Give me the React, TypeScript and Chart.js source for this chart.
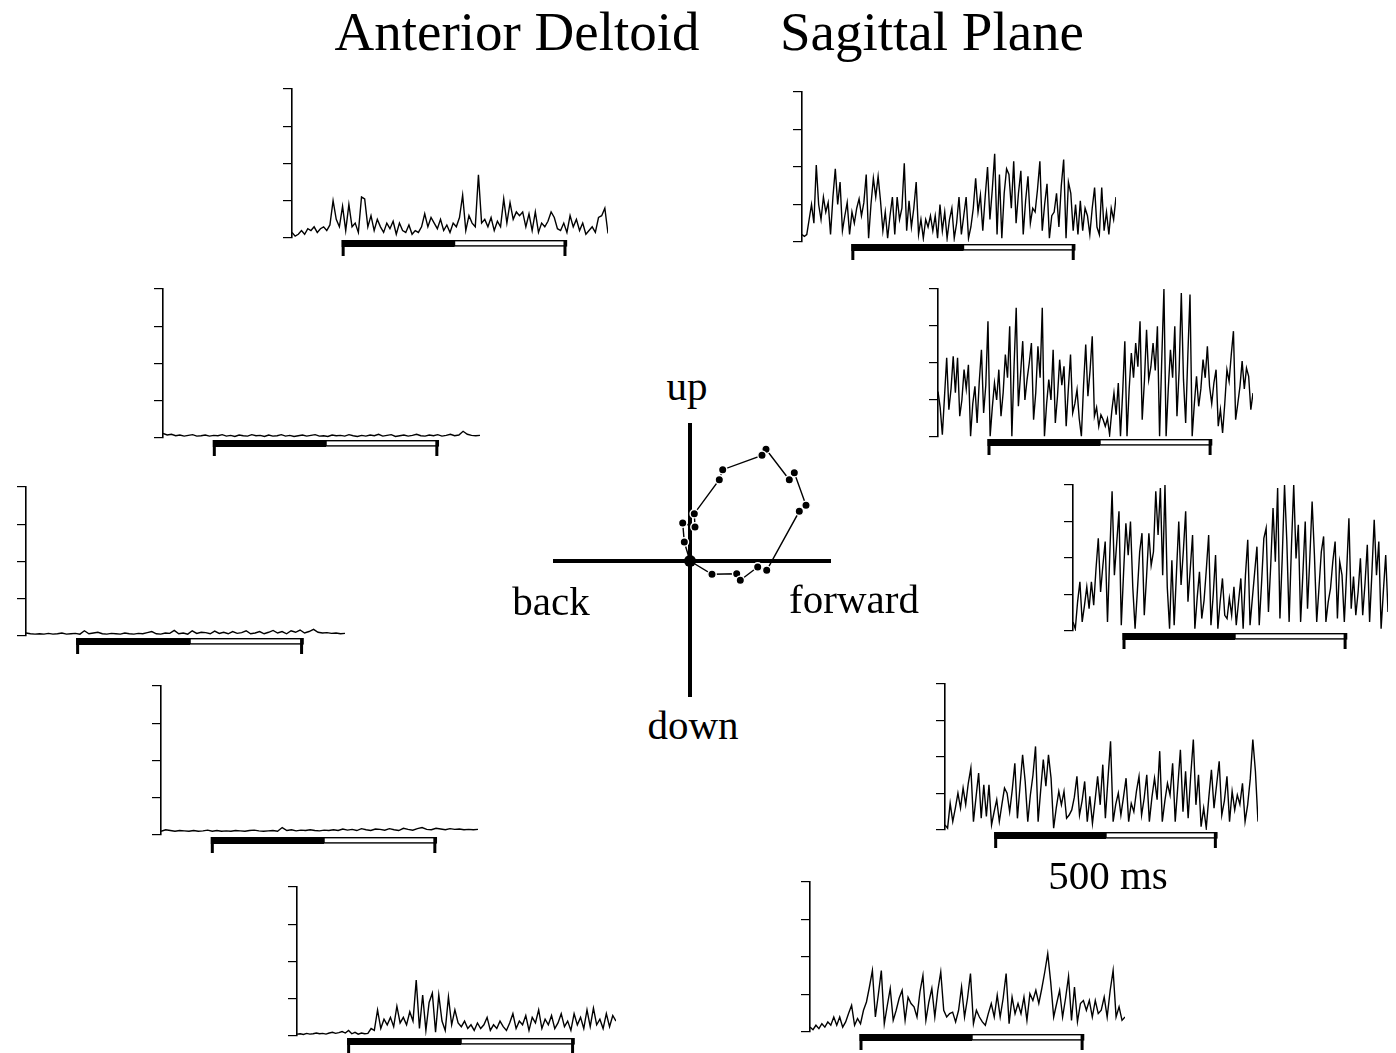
import React, { useEffect, useRef } from "react";
import { Chart, registerables } from "chart.js";

Chart.register(...registerables);

// ---------- data ----------
const TRACE_MS = 700;
const Y_TICKS = [0, 1, 2, 3, 4];
const BAR_START_MS = 110;
const BAR_SWITCH_MS = 360;
const BAR_END_MS = 608;

const L1_TRACE = [0.15,0.05,0.1,0.2,0.1,0.25,0.2,0.3,0.15,0.25,0.3,0.2,0.35,1.0,0.5,0.3,0.85,0.2,0.9,0.3,0.4,0.15,1.1,1.05,0.3,0.6,0.2,0.5,0.3,0.15,0.4,0.25,0.45,0.1,0.4,0.2,0.15,0.35,0.1,0.2,0.15,0.3,0.65,0.3,0.55,0.4,0.25,0.5,0.2,0.35,0.15,0.4,0.3,0.55,1.15,0.2,0.6,0.4,0.3,1.7,0.4,0.5,0.3,0.55,0.2,0.45,0.3,1.05,0.4,0.95,0.5,0.7,0.6,0.7,0.3,0.65,0.2,0.7,0.15,0.4,0.3,0.45,0.7,0.55,0.25,0.2,0.4,0.15,0.6,0.3,0.5,0.2,0.4,0.1,0.2,0.3,0.15,0.55,0.6,0.8,0.12];
const L2_TRACE = [0.12,0.08,0.1,0.06,0.08,0.05,0.07,0.09,0.05,0.06,0.08,0.05,0.07,0.06,0.09,0.05,0.07,0.04,0.08,0.06,0.05,0.09,0.06,0.07,0.04,0.08,0.05,0.06,0.09,0.05,0.07,0.04,0.06,0.08,0.05,0.07,0.09,0.05,0.06,0.04,0.08,0.06,0.07,0.05,0.09,0.06,0.04,0.07,0.05,0.08,0.06,0.1,0.05,0.07,0.09,0.04,0.06,0.08,0.05,0.07,0.1,0.06,0.05,0.08,0.06,0.09,0.05,0.07,0.1,0.06,0.08,0.18,0.1,0.07,0.06,0.07];
const L3_TRACE = [0.08,0.06,0.05,0.06,0.05,0.07,0.05,0.06,0.08,0.05,0.06,0.07,0.05,0.14,0.06,0.08,0.1,0.06,0.05,0.07,0.06,0.05,0.08,0.06,0.05,0.07,0.06,0.09,0.12,0.06,0.05,0.08,0.07,0.15,0.06,0.08,0.05,0.14,0.07,0.1,0.09,0.06,0.13,0.07,0.1,0.06,0.12,0.07,0.09,0.14,0.06,0.08,0.12,0.06,0.1,0.15,0.08,0.12,0.06,0.14,0.1,0.16,0.08,0.12,0.18,0.1,0.08,0.09,0.07,0.08,0.06,0.07];
const L4_TRACE = [0.1,0.14,0.12,0.1,0.12,0.11,0.1,0.12,0.1,0.11,0.13,0.1,0.12,0.1,0.11,0.1,0.12,0.11,0.1,0.12,0.13,0.11,0.1,0.11,0.12,0.1,0.2,0.12,0.14,0.11,0.13,0.12,0.14,0.12,0.11,0.13,0.12,0.14,0.12,0.16,0.13,0.15,0.12,0.17,0.14,0.12,0.16,0.15,0.13,0.17,0.14,0.12,0.18,0.15,0.13,0.17,0.2,0.15,0.14,0.18,0.16,0.14,0.17,0.15,0.16,0.14,0.15,0.14,0.15];
const L5_TRACE = [0.05,0.06,0.04,0.07,0.05,0.06,0.08,0.06,0.07,0.05,0.08,0.1,0.07,0.09,0.12,0.08,0.15,0.06,0.1,0.05,0.08,0.06,0.07,0.2,0.15,0.7,0.2,0.45,0.3,0.5,0.25,0.8,0.35,0.5,0.3,0.65,0.4,1.5,0.2,1.1,0.15,0.9,1.15,0.1,1.1,0.4,0.15,1.05,0.3,0.7,0.35,0.25,0.4,0.2,0.3,0.15,0.35,0.2,0.3,0.5,0.15,0.3,0.2,0.4,0.25,0.15,0.35,0.6,0.2,0.4,0.3,0.55,0.15,0.5,0.35,0.7,0.2,0.45,0.3,0.55,0.2,0.35,0.6,0.25,0.4,0.15,0.6,0.3,0.5,0.2,0.7,0.25,0.75,0.3,0.45,0.2,0.6,0.25,0.55,0.4];

const R1_TRACE = [0.2,0.15,0.2,0.6,1.0,0.5,2.05,1.0,0.6,1.2,0.8,1.05,0.2,1.2,1.95,1.0,1.6,0.3,0.7,1.05,0.2,0.8,0.5,0.9,1.15,0.7,1.05,1.8,0.1,1.0,1.7,1.2,1.75,1.1,0.3,0.8,0.1,0.7,1.2,0.2,1.2,0.6,0.9,2.1,0.3,1.1,0.4,0.9,1.6,0.2,0.6,0.1,0.6,0.4,0.7,0.3,0.7,0.1,1.0,0.3,0.8,0.1,0.6,0.9,0.1,0.5,1.2,0.2,0.7,1.2,0.1,0.4,0.9,1.7,0.8,1.25,0.3,1.2,2.0,0.6,1.4,2.35,0.2,1.8,0.1,1.3,1.95,1.8,0.9,2.15,0.5,1.3,1.9,0.2,1.1,1.75,0.5,0.9,0.8,1.4,2.15,0.3,1.0,1.55,0.1,0.7,0.8,1.3,0.4,1.5,2.2,0.1,1.6,1.3,0.3,1.0,0.2,1.1,0.3,0.9,0.7,0.2,0.9,1.45,0.4,0.2,1.45,0.3,0.8,0.2,0.9,0.6,1.2];
const R2_TRACE = [1.23,0.8,0.06,1.1,2.14,0.74,1.3,2.18,1.2,2.14,0.56,1.0,1.82,1.3,1.95,0.02,0.9,1.37,0.38,1.5,2.36,0.65,1.4,3.13,0.02,0.8,1.46,1.0,1.82,0.56,1.2,2.23,1.6,2.99,0.02,1.9,3.49,0.83,1.7,2.59,1.0,1.55,2.0,2.54,0.47,1.2,2.45,1.6,3.49,0.02,0.9,1.55,1.0,2.36,0.38,1.1,2.09,1.4,1.91,0.29,1.3,2.23,0.65,0.9,1.28,0.5,0.02,1.4,2.5,1.1,1.8,2.72,0.56,0.8,0.29,0.6,0.47,0.29,0.5,0.06,0.7,1.19,0.6,1.46,0.02,1.2,2.59,0.02,1.3,2.27,1.6,2.54,1.9,3.13,0.47,1.5,2.9,1.55,1.9,2.54,1.8,2.99,0.02,2.1,4.0,0.02,1.3,2.36,1.6,2.99,0.56,1.8,3.89,1.55,0.38,2.2,3.85,0.02,0.9,1.64,0.83,1.3,2.09,1.6,2.45,1.37,0.9,1.46,1.82,0.29,0.74,0.11,0.9,1.82,1.5,2.23,2.86,0.47,0.9,1.37,2.05,1.3,1.86,1.64,0.74,1.19];
const R3_TRACE = [0.25,0.06,0.8,1.35,0.25,0.7,1.21,0.61,1.35,0.71,1.7,2.54,1.07,1.8,2.45,0.25,2.1,3.83,1.53,2.4,3.28,0.16,1.6,2.95,2.08,3.0,1.2,0.06,1.1,2.17,2.68,0.43,1.5,2.68,1.8,2.17,3.83,2.63,3.92,1.53,4.0,1.2,0.06,1.94,0.16,1.6,3.0,1.26,2.2,3.28,0.8,1.7,2.63,0.06,0.9,1.62,0.34,0.84,1.7,2.63,0.16,1.0,2.08,0.06,0.8,1.44,0.43,0.34,0.9,0.43,1.21,0.16,0.8,1.44,0.06,1.53,2.5,0.16,0.89,1.6,2.31,0.16,1.3,2.54,2.82,0.52,1.8,3.37,1.9,3.92,0.34,2.0,4.0,2.45,0.25,2.3,4.0,1.99,2.91,0.25,1.6,3.0,0.61,2.0,3.55,2.08,0.25,1.2,2.17,2.59,0.25,0.8,1.17,1.9,2.45,0.34,1.9,1.53,0.25,1.6,3.09,0.61,1.49,0.43,1.07,1.99,0.43,1.3,2.36,0.25,1.6,3.05,1.53,2.45,0.06,1.1,2.08,0.52];
const R4_TRACE = [0.14,0.05,0.73,0.23,0.6,1.01,0.6,1.15,0.7,1.28,1.7,0.23,0.9,1.56,0.32,1.24,0.37,1.24,0.14,0.5,0.83,0.23,0.7,1.15,1.01,0.5,1.1,1.83,0.32,1.2,2.06,1.33,0.23,0.96,1.5,2.29,0.23,1.1,1.93,1.2,2.06,1.42,0.05,0.6,1.06,0.69,1.06,0.32,0.41,0.55,0.9,1.47,0.41,0.8,1.33,0.23,0.92,0.18,0.8,1.47,0.69,1.79,0.32,1.4,2.43,0.23,0.7,1.01,0.41,0.9,1.42,0.23,0.73,0.5,1.06,1.47,0.41,0.87,1.51,0.23,0.9,1.42,0.83,2.16,0.23,0.8,1.28,0.96,1.83,0.23,1.2,2.2,0.5,1.61,0.32,1.5,2.48,0.69,1.51,0.09,0.6,0.05,0.9,1.65,0.6,1.24,1.88,0.41,0.8,1.47,0.23,1.06,0.55,0.96,0.7,1.28,0.23,0.69,1.4,2.48,1.61,0.23];
const R5_TRACE = [0.13,0.06,0.18,0.09,0.22,0.13,0.27,0.18,0.4,0.18,0.4,0.13,0.27,0.5,0.71,0.18,0.36,0.22,0.58,0.8,1.2,1.64,0.4,1.0,1.64,0.22,0.7,1.16,0.31,0.58,0.9,1.11,0.31,0.93,0.76,0.67,0.4,1.07,1.51,0.31,0.8,1.16,0.4,1.1,1.6,0.58,0.4,0.49,0.53,0.27,0.58,1.2,0.4,0.9,1.56,0.22,0.58,0.4,0.27,0.18,0.49,0.76,0.4,0.98,0.4,0.9,1.56,0.22,0.93,0.49,0.76,0.49,0.93,0.31,1.02,0.84,1.11,0.76,1.16,1.6,2.09,1.33,0.4,0.76,1.11,0.4,0.9,1.48,0.31,1.2,0.27,0.76,0.84,0.58,0.84,0.4,0.84,0.49,0.58,0.93,0.4,1.1,1.64,0.4,0.67,0.31,0.4];

// central hand-path (forward / up)
const LOOP_X = [0, 22, 46.7, 50.3, 67.7, 76.7, 109.3, 116, 104.3, 99.3, 76, 72, 32.7, 29.3, 4.3, 5, -7.3, -5.7, 0];
const LOOP_Y = [0, -13.3, -12.7, -19.3, -6, -9.3, 49.7, 55.7, 88.3, 81.3, 111.7, 105.7, 91.3, 81.3, 47.3, 34, 38, 19, 0];
const AXIS_X_RANGE = [-137, 141];
const AXIS_Y_RANGE = [-136, 138];

// ---------- layout ----------
const PANELS = [
  { id: "L1", trace: L1_TRACE, axisX: 292, topY: 89, bottomY: 238, endX: 608 },
  { id: "L2", trace: L2_TRACE, axisX: 163, topY: 289, bottomY: 438, endX: 480 },
  { id: "L3", trace: L3_TRACE, axisX: 26, topY: 487, bottomY: 636, endX: 345 },
  { id: "L4", trace: L4_TRACE, axisX: 161, topY: 686, bottomY: 835, endX: 478 },
  { id: "L5", trace: L5_TRACE, axisX: 297, topY: 887, bottomY: 1036, endX: 616 },
  { id: "R1", trace: R1_TRACE, axisX: 802, topY: 92, bottomY: 242, endX: 1116 },
  { id: "R2", trace: R2_TRACE, axisX: 938, topY: 289, bottomY: 437, endX: 1253 },
  { id: "R3", trace: R3_TRACE, axisX: 1073, topY: 485, bottomY: 631, endX: 1388 },
  { id: "R4", trace: R4_TRACE, axisX: 945, topY: 684, bottomY: 830, endX: 1258 },
  { id: "R5", trace: R5_TRACE, axisX: 810, topY: 882, bottomY: 1032, endX: 1125 },
];

const PAD_L = 4;
const TICK_LEN = 9;
const PAD_R = 4;
const PAD_T = 4;
const PAD_B = 20;
const SERIF = "'Liberation Serif', 'Times New Roman', Times, serif";

const stimBarPlugin = {
  id: "stimBar",
  afterDraw(chart: any) {
    const { ctx, chartArea, scales } = chart;
    const xs = scales.x;
    const x0 = xs.getPixelForValue(BAR_START_MS);
    const xm = xs.getPixelForValue(BAR_SWITCH_MS);
    const x1 = xs.getPixelForValue(BAR_END_MS);
    const top = chartArea.bottom + 2;
    const h = 7;
    ctx.save();
    ctx.fillStyle = "#000";
    ctx.fillRect(x0, top, xm - x0, h);
    ctx.strokeStyle = "#000";
    ctx.lineWidth = 1.4;
    ctx.strokeRect(xm, top + 0.7, x1 - xm, h - 1.8);
    ctx.lineWidth = 3;
    ctx.beginPath();
    ctx.moveTo(x0 + 1.5, top);
    ctx.lineTo(x0 + 1.5, top + 16);
    ctx.moveTo(x1 - 1.5, top);
    ctx.lineTo(x1 - 1.5, top + 16);
    ctx.stroke();
    ctx.restore();
  },
};

function TracePanel({ trace, axisX, topY, bottomY, endX }: any) {
  const ref = useRef<HTMLCanvasElement>(null);
  const width = endX - axisX + PAD_L + TICK_LEN + PAD_R;
  const height = bottomY - topY + PAD_T + PAD_B;
  useEffect(() => {
    if (!ref.current) return;
    const n = trace.length;
    const chart = new Chart(ref.current, {
      type: "line",
      data: {
        datasets: [
          {
            data: trace.map((v: number, i: number) => ({ x: (i * TRACE_MS) / (n - 1), y: v })),
            borderColor: "#000",
            borderWidth: 1.4,
            pointRadius: 0,
            tension: 0,
            fill: false,
          },
        ],
      },
      options: {
        animation: false,
        responsive: false,
        events: [],
        layout: { autoPadding: false, padding: { left: PAD_L, right: PAD_R, top: PAD_T, bottom: PAD_B } },
        plugins: { legend: { display: false }, tooltip: { enabled: false } },
        scales: {
          x: { type: "linear", min: 0, max: TRACE_MS, display: false },
          y: {
            type: "linear",
            min: 0,
            max: 4,
            afterBuildTicks: (s: any) => {
              s.ticks = Y_TICKS.map((v) => ({ value: v }));
            },
            ticks: { display: false },
            grid: {
              display: true,
              drawOnChartArea: false,
              drawTicks: true,
              tickLength: TICK_LEN,
              color: "#000",
              lineWidth: 1.2,
            },
            border: { display: true, color: "#000", width: 1.6 },
          },
        },
      } as any,
      plugins: [stimBarPlugin as any],
    });
    return () => chart.destroy();
  }, []);
  return (
    <canvas
      ref={ref}
      width={width}
      height={height}
      style={{
        position: "absolute",
        left: axisX - PAD_L - TICK_LEN,
        top: topY - PAD_T,
        width,
        height,
        display: "block",
      }}
    />
  );
}

function DirectionPlot() {
  const ref = useRef<HTMLCanvasElement>(null);
  const left = 553;
  const top = 423;
  const width = AXIS_X_RANGE[1] - AXIS_X_RANGE[0];
  const height = AXIS_Y_RANGE[1] - AXIS_Y_RANGE[0];
  useEffect(() => {
    if (!ref.current) return;
    const chart = new Chart(ref.current, {
      type: "scatter",
      data: {
        datasets: [
          {
            data: [{ x: 0, y: 0 }],
            pointRadius: 6,
            pointBackgroundColor: "#000",
            pointBorderWidth: 0,
            showLine: false,
          },
          {
            data: LOOP_X.map((x, i) => ({ x, y: LOOP_Y[i] })),
            showLine: true,
            borderColor: "#000",
            borderWidth: 1.4,
            pointRadius: 4.2,
            pointBackgroundColor: "#000",
            pointBorderColor: "#fff",
            pointBorderWidth: 1.4,
          },
          {
            data: [
              { x: AXIS_X_RANGE[0], y: 0 },
              { x: AXIS_X_RANGE[1], y: 0 },
            ],
            showLine: true,
            borderColor: "#000",
            borderWidth: 4,
            pointRadius: 0,
          },
          {
            data: [
              { x: 0, y: AXIS_Y_RANGE[0] },
              { x: 0, y: AXIS_Y_RANGE[1] },
            ],
            showLine: true,
            borderColor: "#000",
            borderWidth: 4,
            pointRadius: 0,
          },
        ],
      },
      options: {
        animation: false,
        responsive: false,
        events: [],
        layout: { autoPadding: false, padding: 0 },
        plugins: { legend: { display: false }, tooltip: { enabled: false } },
        scales: {
          x: { type: "linear", min: AXIS_X_RANGE[0], max: AXIS_X_RANGE[1], display: false },
          y: { type: "linear", min: AXIS_Y_RANGE[0], max: AXIS_Y_RANGE[1], display: false },
        },
      } as any,
    });
    return () => chart.destroy();
  }, []);
  return (
    <canvas
      ref={ref}
      width={width}
      height={height}
      style={{ position: "absolute", left, top, width, height, display: "block" }}
    />
  );
}

function Label({ text, cx, baseline, size }: { text: string; cx: number; baseline: number; size: number }) {
  return (
    <div
      style={{
        position: "absolute",
        left: cx,
        top: baseline - 0.8375 * size,
        transform: "translateX(-50%)",
        fontFamily: SERIF,
        fontSize: size,
        lineHeight: `${size}px`,
        whiteSpace: "nowrap",
        color: "#000",
      }}
    >
      {text}
    </div>
  );
}

export default function App() {
  return (
    <div style={{ position: "absolute", left: 0, top: 0, width: 1396, height: 1053, background: "#fff", overflow: "hidden" }}>
      <Label text="Anterior Deltoid" cx={517} baseline={50} size={55} />
      <Label text="Sagittal Plane" cx={932} baseline={50} size={55} />
      {PANELS.map((p) => (
        <TracePanel key={p.id} {...p} />
      ))}
      <DirectionPlot />
      <Label text="up" cx={687} baseline={400} size={41} />
      <Label text="down" cx={693} baseline={739} size={41} />
      <Label text="back" cx={551} baseline={615} size={41} />
      <Label text="forward" cx={854} baseline={613} size={41} />
      <Label text="500 ms" cx={1108} baseline={889} size={41} />
    </div>
  );
}
